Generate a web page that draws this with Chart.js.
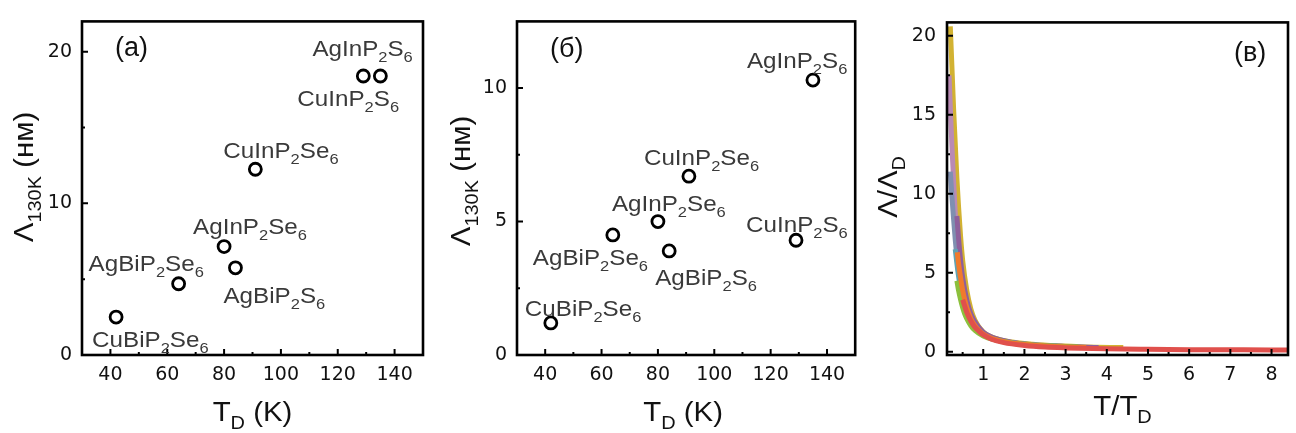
<!DOCTYPE html>
<html lang="ru">
<head>
<meta charset="UTF-8">
<title>Λ130K и Λ/ΛD</title>
<style>
    body {
        margin: 0;
        background: #fff;
        width: 1296px;
        height: 433px;
        overflow: hidden;
        position: relative;
    }
    canvas { position: absolute; top: 0; }
    #chartA { left: 0; }
    #chartB { left: 432px; }
    #chartC { left: 864px; }
</style>
</head>
<body>
<canvas id="chartA" width="432" height="433"></canvas>
<canvas id="chartB" width="432" height="433"></canvas>
<canvas id="chartC" width="432" height="433"></canvas>

<script src="https://cdn.jsdelivr.net/npm/chart.js"></script>
<script>
// --- данные ---
const compounds = ['CuBiP_{2}Se_{6}', 'AgBiP_{2}Se_{6}', 'AgInP_{2}Se_{6}', 'AgBiP_{2}S_{6}',
                   'CuInP_{2}Se_{6}', 'CuInP_{2}S_{6}', 'AgInP_{2}S_{6}'];
const debyeT = [42, 64, 80, 84, 91, 129, 135];
const lambdaA = [2.5, 4.7, 7.15, 5.75, 12.25, 18.4, 18.4];   // (а)
const lambdaB = [1.2, 4.5, 5.0, 3.9, 6.7, 4.3, 10.3];         // (б)

const tdTicks = [40, 60, 80, 100, 120, 140];
const tdMinor = [50, 70, 90, 110, 130];
const lambdaTicksA = [0, 10, 20];
const lambdaMinorA = [5, 15];
const lambdaTicksB = [0, 5, 10];
const lambdaMinorB = [2.5, 7.5];
const ratioTicksX = [1, 2, 3, 4, 5, 6, 7, 8];
const ratioMinorX = [0.5, 1.5, 2.5, 3.5, 4.5, 5.5, 6.5, 7.5];
const ratioTicksY = [0, 5, 10, 15, 20];
const ratioMinorY = [2.5, 7.5, 12.5, 17.5];

// (в) кривые Λ/ΛD от T/TD
const redT    = [0.5, 0.55, 0.6, 0.7, 0.8, 0.9, 1.0, 1.2, 1.5, 2.0, 2.5, 3.0, 4.0, 5.0, 6.0, 7.0, 8.0, 8.4];
const redL    = [3.3, 2.9, 2.5, 1.95, 1.55, 1.3, 1.08, 0.8, 0.58, 0.4, 0.3, 0.25, 0.19, 0.16, 0.14, 0.13, 0.12, 0.12];
const orangeT = [0.37, 0.4, 0.45, 0.5, 0.55, 0.6, 0.7, 0.8, 0.9, 1.0, 1.2, 1.5, 2.0, 2.5, 3.0, 3.5];
const orangeL = [6.3, 5.6, 4.7, 3.9, 3.3, 2.8, 2.1, 1.65, 1.35, 1.12, 0.85, 0.64, 0.46, 0.37, 0.31, 0.27];
const greenT  = [0.36, 0.4, 0.45, 0.5, 0.55, 0.6, 0.7, 0.8, 1.0, 1.3, 1.7, 2.2, 2.8, 3.3];
const greenL  = [4.5, 3.9, 3.3, 2.8, 2.4, 2.1, 1.65, 1.35, 1.0, 0.75, 0.56, 0.44, 0.36, 0.31];
const tealT   = [0.32, 0.36, 0.4, 0.45, 0.5, 0.6, 0.7, 0.85, 1.0, 1.3, 1.7, 2.2, 2.8];
const tealL   = [6.5, 5.6, 4.8, 4.0, 3.4, 2.5, 1.9, 1.4, 1.08, 0.76, 0.56, 0.43, 0.35];
const purpleT = [0.36, 0.4, 0.45, 0.5, 0.6, 0.7, 0.85, 1.0, 1.3, 1.7, 2.2, 3.0, 3.8];
const purpleL = [8.6, 7.2, 5.8, 4.7, 3.3, 2.4, 1.7, 1.25, 0.85, 0.6, 0.45, 0.34, 0.28];
const slateT  = [0.2, 0.24, 0.28, 0.32, 0.36, 0.4, 0.45, 0.5, 0.6, 0.7, 0.85, 1.0, 1.3, 1.7, 2.2, 2.8];
const slateL  = [11.4, 9.8, 8.4, 7.1, 6.0, 5.1, 4.3, 3.6, 2.6, 2.0, 1.45, 1.1, 0.78, 0.57, 0.44, 0.35];
const pinkT   = [0.17, 0.2, 0.24, 0.28, 0.32, 0.36, 0.4, 0.45, 0.5, 0.6, 0.7, 0.85, 1.0, 1.3, 1.7, 2.2, 3.0];
const pinkL   = [17.5, 15.5, 13.0, 10.8, 8.8, 7.2, 5.9, 4.7, 3.8, 2.7, 2.0, 1.45, 1.1, 0.78, 0.58, 0.44, 0.33];
const goldT   = [0.2, 0.24, 0.28, 0.32, 0.36, 0.4, 0.45, 0.5, 0.6, 0.7, 0.8, 1.0, 1.3, 1.7, 2.2, 2.8, 3.5, 4.4];
const goldL   = [20.6, 18.0, 15.4, 13.2, 11.0, 9.2, 7.3, 5.8, 3.9, 2.7, 2.0, 1.25, 0.85, 0.62, 0.48, 0.38, 0.31, 0.27];

// сдвиги подписей относительно точек (px)
const labelOffA = [[-24, 30], [-90, -13], [-31, -13], [-12, 35], [-32, -11], [-66, 30], [-68, -20]];
const labelOffB = [[-26, -7], [-80, 30], [-46, -11], [-14, 34], [-45, -11], [-50, -8], [-66, -12]];

const FONT = 'Arial, "Liberation Sans", sans-serif';
const TICK_FONT = '"DejaVu Sans", Arial, sans-serif';
Chart.defaults.font.family = FONT;

// текст с нижними индексами: "T_{D}"
function richParts(s) {
    const out = [];
    const re = /_\{([^}]*)\}/g;
    let last = 0, m;
    while ((m = re.exec(s))) {
        if (m.index > last) out.push([s.slice(last, m.index), false]);
        out.push([m[1], true]);
        last = re.lastIndex;
    }
    if (last < s.length) out.push([s.slice(last), false]);
    return out;
}

function drawRich(ctx, s, x, y, size, align, color, stretch, rot) {
    const parts = richParts(s);
    const sub = Math.round(size * 0.68);
    ctx.save();
    ctx.translate(x, y);
    if (rot) ctx.rotate(rot);
    ctx.scale(stretch || 1, 1);
    ctx.fillStyle = color;
    ctx.textBaseline = 'alphabetic';
    ctx.textAlign = 'left';
    let w = 0;
    parts.forEach(p => {
        ctx.font = (p[1] ? sub : size) + 'px ' + FONT;
        w += ctx.measureText(p[0]).width;
    });
    let cx = align === 'center' ? -w / 2 : 0;
    parts.forEach(p => {
        ctx.font = (p[1] ? sub : size) + 'px ' + FONT;
        ctx.fillText(p[0], cx, p[1] ? size * 0.27 : 0);
        cx += ctx.measureText(p[0]).width;
    });
    ctx.restore();
}

// рамка, внутренние засечки, подписи осей и точек
const decor = {
    id: 'decor',
    afterDatasetsDraw(chart, args, o) {
        const ctx = chart.ctx;
        const a = chart.chartArea;
        const xs = chart.scales.x, ys = chart.scales.y;
        ctx.save();
        ctx.strokeStyle = '#000';
        ctx.lineWidth = 2;
        ctx.beginPath();
        o.xMajor.forEach(v => { const p = xs.getPixelForValue(v); ctx.moveTo(p, a.bottom); ctx.lineTo(p, a.bottom - 6); });
        o.xMinor.forEach(v => { const p = xs.getPixelForValue(v); ctx.moveTo(p, a.bottom); ctx.lineTo(p, a.bottom - 3); });
        o.yMajor.forEach(v => { const p = ys.getPixelForValue(v); ctx.moveTo(a.left, p); ctx.lineTo(a.left + 6, p); });
        o.yMinor.forEach(v => { const p = ys.getPixelForValue(v); ctx.moveTo(a.left, p); ctx.lineTo(a.left + 3, p); });
        ctx.stroke();
        ctx.lineWidth = 2.6;
        ctx.strokeRect(a.left, a.top, a.right - a.left, a.bottom - a.top);
        ctx.restore();

        if (o.labels) {
            o.labels.forEach((s, i) => {
                const px = xs.getPixelForValue(o.lx[i]) + o.off[i][0];
                const py = ys.getPixelForValue(o.ly[i]) + o.off[i][1];
                drawRich(ctx, s, px, py, 22, 'left', '#3a3a3a', 1.1);
            });
        }
        drawRich(ctx, o.xTitle, (a.left + a.right) / 2 + o.xTitleDx, o.xTitleY, 28, 'center', '#111', 1.05);
        drawRich(ctx, o.yTitle, o.yTitleX, o.yTitleY, 28, 'center', '#111', 1.05, -Math.PI / 2);
        drawRich(ctx, o.panel, o.panelX, o.panelY, 27, 'left', '#111');
    }
};

function axis(min, max, ticks, size, pad, isX) {
    return {
        type: 'linear',
        min: min,
        max: max,
        afterBuildTicks: s => { s.ticks = ticks.map(v => ({ value: v })); },
        afterFit: s => { if (isX) s.height = size; else s.width = size; },
        grid: { display: false, drawTicks: false },
        border: { display: false },
        ticks: { color: '#111', font: { size: 19, family: TICK_FONT }, padding: pad, autoSkip: false, maxRotation: 0 }
    };
}

function scatterPanel(id, yVals, yMax, yTicks, yMinor, yWidth, rightPad, offs, extra) {
    return new Chart(document.getElementById(id), {
        type: 'scatter',
        data: {
            datasets: [{
                data: debyeT.map((t, i) => ({ x: t, y: yVals[i] })),
                pointRadius: 6,
                pointBorderWidth: 2.8,
                pointBorderColor: '#000',
                pointBackgroundColor: 'rgba(0,0,0,0)'
            }]
        },
        options: {
            responsive: false,
            animation: false,
            layout: { padding: { top: 14, right: rightPad, left: 0, bottom: 0 } },
            plugins: {
                legend: { display: false },
                tooltip: { enabled: false },
                decor: Object.assign({
                    xMajor: tdTicks, xMinor: tdMinor, yMajor: yTicks, yMinor: yMinor,
                    labels: compounds, lx: debyeT, ly: yVals, off: offs,
                    xTitle: 'T_{D} (K)'
                }, extra)
            },
            scales: {
                x: axis(30, 150, tdTicks, 78, 9, true),
                y: axis(0, yMax, yTicks, yWidth, 10, false)
            }
        },
        plugins: [decor]
    });
}

scatterPanel('chartA', lambdaA, 22, lambdaTicksA, lambdaMinorA, 82, 9, labelOffA, {
    xTitleDx: 0, xTitleY: 421, yTitle: 'Λ_{130K} (нм)', yTitleX: 33, yTitleY: 177,
    panel: '(a)', panelX: 115, panelY: 56
});
scatterPanel('chartB', lambdaB, 12.5, lambdaTicksB, lambdaMinorB, 85, 5, labelOffB, {
    xTitleDx: -3, xTitleY: 421, yTitle: 'Λ_{130K} (нм)', yTitleX: 38, yTitleY: 181,
    panel: '(б)', panelX: 118, panelY: 57
});

function curve(ts, ls, color) {
    return {
        data: ts.map((t, i) => ({ x: t, y: ls[i] })),
        showLine: true,
        borderColor: color,
        borderWidth: 5,
        pointRadius: 0,
        cubicInterpolationMode: 'monotone',
        fill: false
    };
}

new Chart(document.getElementById('chartC'), {
    type: 'scatter',
    data: {
        datasets: [
            curve(redT, redL, '#e0504c'),
            curve(orangeT, orangeL, '#f07a2c'),
            curve(greenT, greenL, '#8cc03c'),
            curve(tealT, tealL, '#5ea3b4'),
            curve(purpleT, purpleL, '#8e5f9c'),
            curve(slateT, slateL, '#7f8fb0'),
            curve(pinkT, pinkL, '#b98ab4'),
            curve(goldT, goldL, '#d2b232')
        ]
    },
    options: {
        responsive: false,
        animation: false,
        layout: { padding: { top: 14, right: 8, left: 0, bottom: 0 } },
        plugins: {
            legend: { display: false },
            tooltip: { enabled: false },
            decor: {
                xMajor: ratioTicksX, xMinor: ratioMinorX, yMajor: ratioTicksY, yMinor: ratioMinorY,
                xTitle: 'T/T_{D}', xTitleDx: 5, xTitleY: 415,
                yTitle: 'Λ/Λ_{D}', yTitleX: 33, yTitleY: 187,
                panel: '(в)', panelX: 370, panelY: 61
            }
        },
        scales: {
            x: axis(0.12, 8.4, ratioTicksX, 78, 9, true),
            y: axis(-0.2, 20.85, ratioTicksY, 83, 11, false)
        }
    },
    plugins: [decor]
});
</script>
</body>
</html>
